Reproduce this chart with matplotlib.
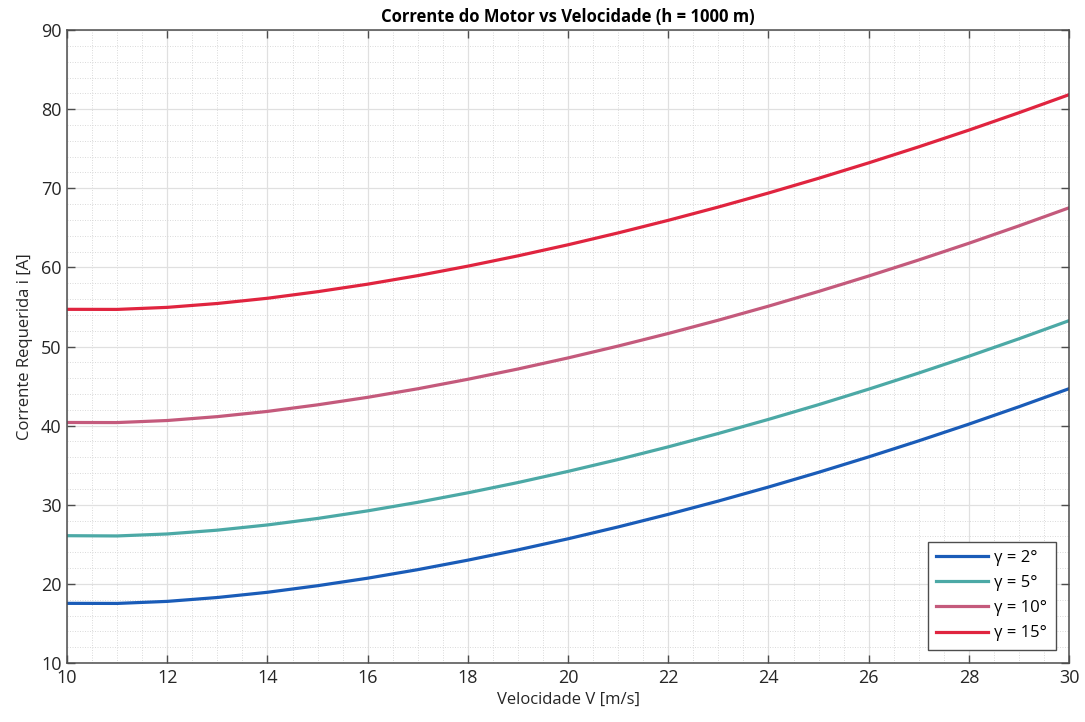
import matplotlib.pyplot as plt
from matplotlib.ticker import MultipleLocator

plt.rcParams['font.family'] = ['Open Sans', 'DejaVu Sans']

# velocity [m/s]
V = [10, 11, 12, 13, 14, 15, 16, 17, 18, 19, 20, 21, 22, 23, 24, 25, 26, 27, 28, 29, 30]

# required current [A] for each climb angle
i_2 = [17.54, 17.53, 17.79, 18.28, 18.94, 19.77, 20.72, 21.80, 23.00, 24.30, 25.70,
       27.20, 28.79, 30.47, 32.24, 34.10, 36.05, 38.08, 40.19, 42.39, 44.67]
i_5 = [26.09, 26.06, 26.31, 26.79, 27.45, 28.27, 29.23, 30.31, 31.51, 32.81, 34.22,
       35.72, 37.32, 39.01, 40.79, 42.65, 44.61, 46.65, 48.77, 50.98, 53.27]
i_10 = [40.40, 40.39, 40.65, 41.14, 41.80, 42.63, 43.58, 44.66, 45.86, 47.16, 48.56,
        50.06, 51.65, 53.33, 55.10, 56.96, 58.91, 60.94, 63.05, 65.25, 67.53]
i_15 = [54.70, 54.69, 54.95, 55.44, 56.10, 56.93, 57.88, 58.96, 60.16, 61.46, 62.86,
        64.36, 65.95, 67.63, 69.40, 71.26, 73.21, 75.24, 77.35, 79.55, 81.83]

labels = ['γ = 2°', 'γ = 5°', 'γ = 10°', 'γ = 15°']
colors = ['#1a5cb8', '#4ca9a6', '#c45a7c', '#e0243f']

fig = plt.figure(figsize=(10.85, 7.22), dpi=100)
ax = fig.add_axes([0.0618, 0.0817, 0.9235, 0.8767])

for y, lab, c in zip([i_2, i_5, i_10, i_15], labels, colors):
    ax.plot(V, y, color=c, lw=2.3, label=lab)

ax.set_xlim(10, 30)
ax.set_ylim(10, 90)
ax.xaxis.set_major_locator(MultipleLocator(2))
ax.xaxis.set_minor_locator(MultipleLocator(0.5))
ax.yaxis.set_major_locator(MultipleLocator(10))
ax.yaxis.set_minor_locator(MultipleLocator(2))

ax.grid(which='major', color='#e0e0e0', lw=0.9, ls='-')
ax.grid(which='minor', color='#d6d6d6', lw=0.6, ls=(0, (1.2, 1.8)))
ax.set_axisbelow(True)

ax.tick_params(which='major', direction='in', length=6, width=1, color='#4d4d4d',
               top=True, right=True, labelsize=13, labelcolor='#262626', pad=4)
ax.tick_params(which='minor', length=0, top=True, right=True)
for s in ax.spines.values():
    s.set_color('#4d4d4d')
    s.set_linewidth(1.1)

ax.set_xlabel('Velocidade V [m/s]', fontsize=12, color='#262626', labelpad=4)
ax.set_ylabel('Corrente Requerida i [A]', fontsize=12, color='#262626', labelpad=6)
ax.set_title('Corrente do Motor vs Velocidade (h = 1000 m)', fontsize=12,
             fontweight='bold', color='black', pad=6)

leg = ax.legend(loc='lower right', fontsize=12, handlelength=3.1, fancybox=False,
                framealpha=1, edgecolor='#4d4d4d', borderpad=0.5, labelspacing=0.55,
                handletextpad=0.4, borderaxespad=0.8)
leg.get_frame().set_linewidth(1.0)

fig.savefig('out.png', dpi=100)
